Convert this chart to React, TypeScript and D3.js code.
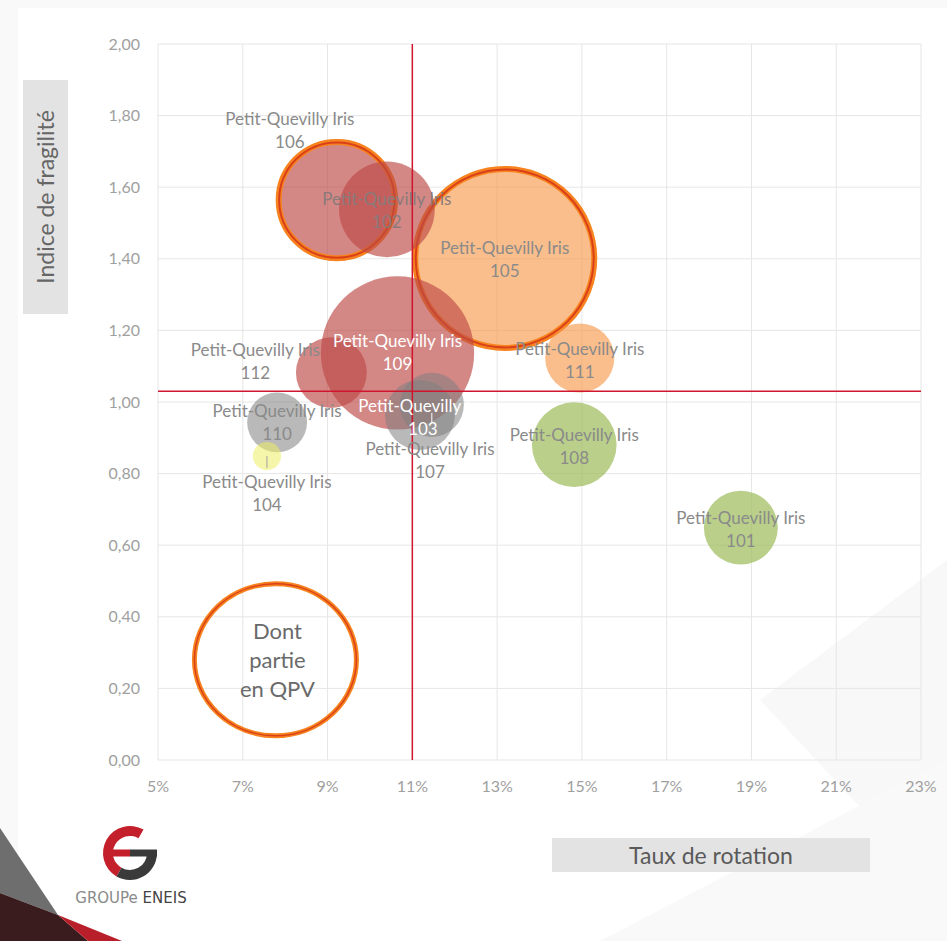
import React from "react";
import * as d3 from "d3";

// ---- Data ----
const irisIds = ["101", "102", "103", "104", "105", "106", "107", "108", "109", "110", "111", "112"];
const rotationRate = [18.75, 10.4, 11.46, 7.57, 13.18, 9.22, 11.18, 14.82, 10.65, 7.81, 14.95, 9.09];
const fragilityIndex = [0.649, 1.538, 0.992, 0.849, 1.401, 1.564, 0.964, 0.881, 1.137, 0.943, 1.123, 1.082];
const bubbleSize = [1370, 2300, 1030, 200, 8500, 3700, 1230, 1800, 5900, 900, 1200, 1260];
const colorGroup = ["green", "red", "gray", "yellow", "orange", "red", "gray", "green", "red", "gray", "orange", "red"];
const inQpv = [false, false, false, false, true, true, false, false, false, false, false, false];
const drawOrder = ["105", "106", "109", "102", "112", "111", "108", "101", "110", "107", "103", "104"];

const xTicks = [5, 7, 9, 11, 13, 15, 17, 19, 21, 23];
const yTicks = [0, 0.2, 0.4, 0.6, 0.8, 1.0, 1.2, 1.4, 1.6, 1.8, 2.0];
const thresholdX = 11;
const thresholdY = 1.03;
const qpvLegend = { x: 7.77, y: 0.28, lines: ["Dont", "partie", "en QPV"] };
const labelPrefix = "Petit-Quevilly Iris";

// ---- Styles / layout ----
const W = 947;
const H = 941;
const fills: Record<string, { c: string; o: number }> = {
  red: { c: "#bd4a47", o: 0.66 },
  orange: { c: "#f79646", o: 0.62 },
  green: { c: "#9bbb59", o: 0.7 },
  gray: { c: "#7f7f7f", o: 0.55 },
  yellow: { c: "#eeee66", o: 0.55 },
};
// label offsets (dx, dy of first line centre relative to bubble centre)
const labelLayout: Record<string, { dx: number; dy: number; color: string }> = {
  "101": { dx: 0, dy: -10, color: "#8a8a8a" },
  "102": { dx: 0, dy: -10, color: "#8a7a7a" },
  "103": { dx: -9, dy: 1, color: "#ffffff" },
  "104": { dx: 0, dy: 26, color: "#8a8a8a" },
  "105": { dx: 0, dy: -10, color: "#8a8a8a" },
  "106": { dx: -47, dy: -81, color: "#8a8a8a" },
  "107": { dx: 10, dy: 34, color: "#8a8a8a" },
  "108": { dx: 0, dy: -10, color: "#8a8a8a" },
  "109": { dx: 0, dy: -12, color: "#ffffff" },
  "110": { dx: 0, dy: -11, color: "#8a8a8a" },
  "111": { dx: 0, dy: -9, color: "#8a8a8a" },
  "112": { dx: -76, dy: -23, color: "#8a8a8a" },
};
const FONT = "Lato, 'Open Sans', sans-serif";

export default function App() {
  const x = d3.scaleLinear().domain([5, 23]).range([158, 921]);
  const y = d3.scaleLinear().domain([0, 2]).range([760, 44]);
  const r = d3.scaleSqrt().domain([0, 8500]).range([0, 92]);
  const fmtY = (v: number) => d3.format(".2f")(v).replace(".", ",");

  const bubbles = irisIds.map((id, i) => ({
    id,
    cx: x(rotationRate[i]),
    cy: y(fragilityIndex[i]),
    rr: r(bubbleSize[i]),
    group: colorGroup[i],
    qpv: inQpv[i],
  }));
  const ordered = drawOrder.map((id) => bubbles.find((b) => b.id === id)!);

  const logoArc = d3.arc<any>().innerRadius(17).outerRadius(27);
  const deg = Math.PI / 180;

  return (
    <svg width={W} height={H} style={{ display: "block", position: "absolute", left: 0, top: 0 }}>
      <rect x={0} y={0} width={W} height={H} fill="#f9f9f9" />
      <rect x={18} y={8} width={W - 18} height={H - 8} fill="#ffffff" />
      {/* faint background shapes */}
      <polygon points="947,560 760,700 947,900" fill="#f8f8f8" />
      <polygon points="600,941 947,760 947,941" fill="#f9f9f9" />

      {/* grid */}
      {xTicks.map((t) => (
        <line key={"gx" + t} x1={x(t)} x2={x(t)} y1={y(2)} y2={y(0)} stroke="#e6e6e6" strokeWidth={1} />
      ))}
      {yTicks.map((t) => (
        <line key={"gy" + t} x1={x(5)} x2={x(23)} y1={y(t)} y2={y(t)} stroke="#e6e6e6" strokeWidth={1} />
      ))}

      {/* tick labels */}
      {yTicks.map((t) => (
        <text key={"ty" + t} x={140} y={y(t)} dy="0.35em" textAnchor="end" fontFamily={FONT} fontSize={16} fill="#a0a0a0">
          {fmtY(t)}
        </text>
      ))}
      {xTicks.map((t) => (
        <text key={"tx" + t} x={x(t)} y={786} dy="0.35em" textAnchor="middle" fontFamily={FONT} fontSize={16} fill="#a0a0a0">
          {t + "%"}
        </text>
      ))}

      {/* bubbles */}
      {ordered.map((b) => (
        <g key={"b" + b.id}>
          <circle cx={b.cx} cy={b.cy} r={b.rr} fill={fills[b.group].c} fillOpacity={fills[b.group].o} />
          {b.qpv && (
            <>
              <circle cx={b.cx} cy={b.cy} r={b.rr - 2.5} fill="none" stroke="#f7831f" strokeWidth={6} />
              <circle cx={b.cx} cy={b.cy} r={b.rr - 3} fill="none" stroke="#d9401a" strokeWidth={2} />
            </>
          )}
        </g>
      ))}

      {/* reference lines */}
      <line x1={x(thresholdX)} x2={x(thresholdX)} y1={y(2)} y2={y(0)} stroke="#d0152e" strokeWidth={1.5} />
      <line x1={x(5)} x2={x(23)} y1={y(thresholdY)} y2={y(thresholdY)} stroke="#d0152e" strokeWidth={1.5} />

      {/* leader lines */}
      {bubbles
        .filter((b) => b.id === "104")
        .map((b) => (
          <line key="l104" x1={b.cx} x2={b.cx} y1={b.cy} y2={b.cy + 12} stroke="#a0a0a0" strokeWidth={1} />
        ))}
      {bubbles
        .filter((b) => b.id === "103")
        .map((b) => (
          <line key="l103" x1={b.cx} x2={b.cx} y1={b.cy + 8} y2={b.cy + 18} stroke="#ffffff" strokeWidth={1} />
        ))}

      {/* labels */}
      {bubbles.map((b) => {
        const L = labelLayout[b.id];
        return (
          <g key={"lab" + b.id} fontFamily={FONT} fontSize={17} fill={L.color} textAnchor="middle">
            <text x={b.cx + L.dx} y={b.cy + L.dy} dy="0.35em">
              {labelPrefix}
            </text>
            <text x={b.cx + L.dx} y={b.cy + L.dy + 23} dy="0.35em">
              {b.id}
            </text>
          </g>
        );
      })}

      {/* QPV legend ring */}
      <ellipse cx={x(qpvLegend.x)} cy={y(qpvLegend.y)} rx={81} ry={76} fill="none" stroke="#f7831f" strokeWidth={5} />
      <ellipse cx={x(qpvLegend.x)} cy={y(qpvLegend.y)} rx={81} ry={76} fill="none" stroke="#d9401a" strokeWidth={1.5} />
      {qpvLegend.lines.map((ln, i) => (
        <text
          key={"q" + i}
          x={x(qpvLegend.x) + 2}
          y={y(qpvLegend.y) - 28 + i * 29}
          dy="0.35em"
          textAnchor="middle"
          fontFamily={FONT}
          fontSize={22}
          fill="#6a6a6a"
        >
          {ln}
        </text>
      ))}

      {/* axis titles */}
      <rect x={23} y={80} width={45} height={234} fill="#e3e3e3" />
      <text
        transform={`translate(46,197) rotate(-90)`}
        dy="0.35em"
        textAnchor="middle"
        fontFamily={FONT}
        fontSize={23}
        fill="#666666"
      >
        Indice de fragilité
      </text>
      <rect x={552} y={838} width={318} height={34} fill="#e3e3e3" />
      <text x={711} y={856} dy="0.35em" textAnchor="middle" fontFamily={FONT} fontSize={23} fill="#5a5a5a">
        Taux de rotation
      </text>

      {/* corner shapes */}
      <polygon points="0,828 58,915 0,893" fill="#6e6e6e" />
      <polygon points="0,893 58,915 88,941 0,941" fill="#3a1c1e" />
      <polygon points="58,915 122,941 88,941" fill="#b81f2a" />

      {/* logo */}
      <g transform="translate(130,853)">
        <path d={logoArc({ startAngle: 210 * deg, endAngle: 390 * deg }) || ""} fill="#c4202b" />
        <path d={logoArc({ startAngle: 92 * deg, endAngle: 210 * deg }) || ""} fill="#3a3a3a" />
        <rect x={-22} y={-3.5} width={22} height={7} fill="#c4202b" />
        <rect x={0} y={-3.5} width={27} height={7} fill="#3a3a3a" />
      </g>
      <text x={131} y={903} textAnchor="middle" fontFamily="'DejaVu Sans', sans-serif" fontSize={15}>
        <tspan fill="#8a8a8a">GROUPe </tspan>
        <tspan fill="#444444">ENEIS</tspan>
      </text>
    </svg>
  );
}
